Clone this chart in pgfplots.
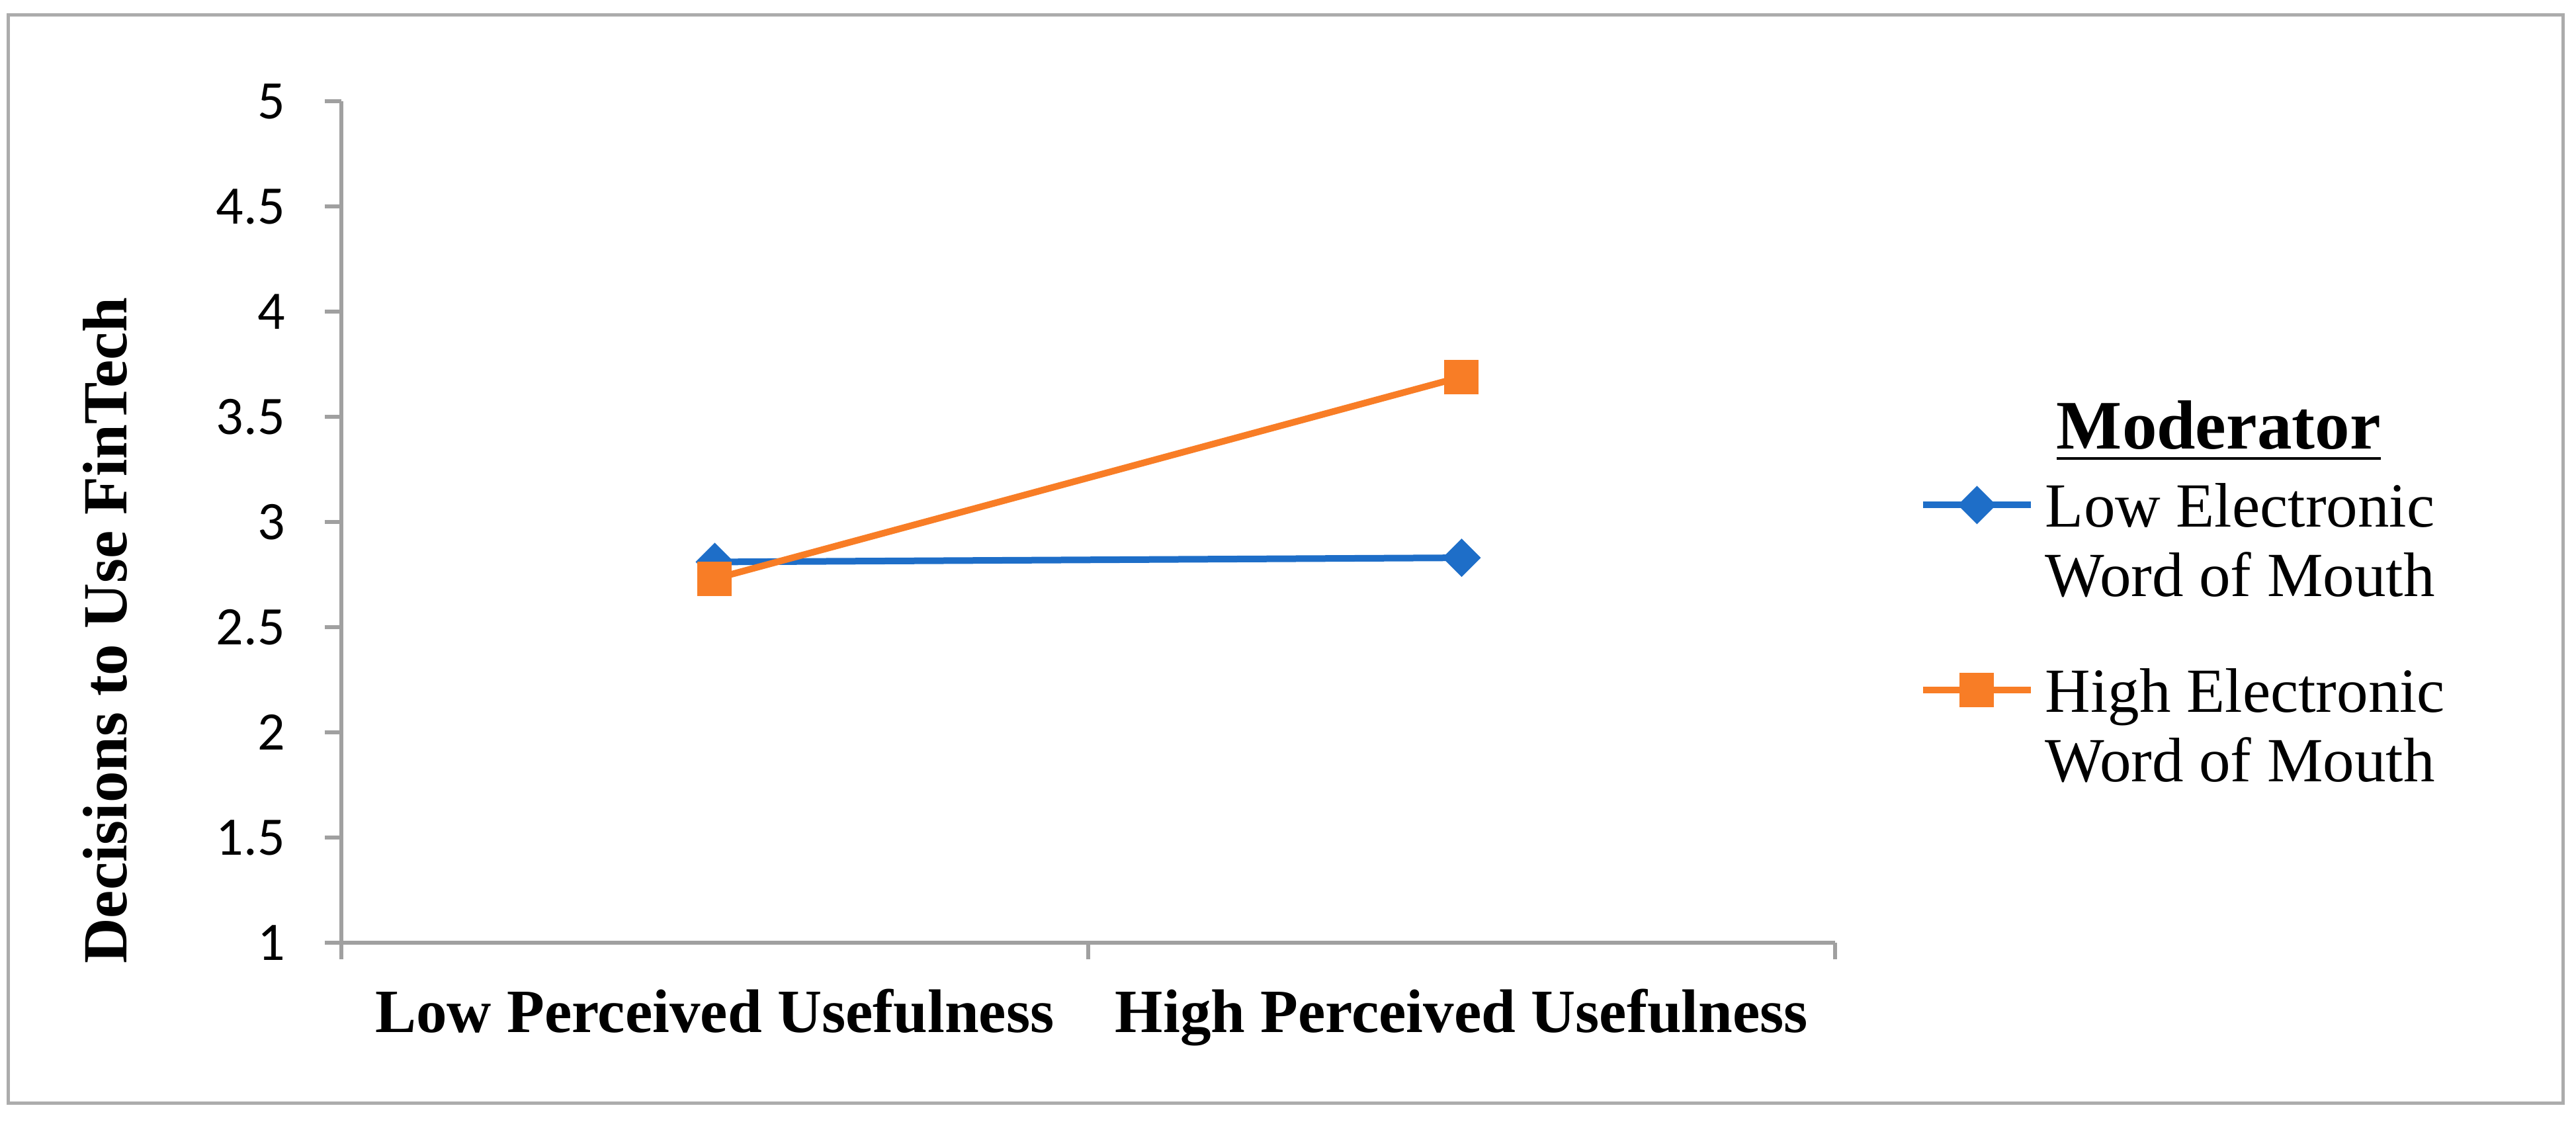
\documentclass[border=0pt]{standalone}
\usepackage{fontspec}
\setmainfont{Liberation Serif}
\newfontfamily\carlito{Carlito}
\usepackage{pgfplots}
\pgfplotsset{compat=1.18}

\definecolor{lowblue}{RGB}{30,110,200}
\definecolor{highorange}{RGB}{248,125,38}
\definecolor{axgray}{RGB}{160,160,160}

\begin{document}
\begin{tikzpicture}
\useasboundingbox (0,0) rectangle (389.4pt,169.5pt);
\draw[gray!65, line width=0.5pt] (1.3pt,2.8pt) rectangle (387.4pt,167.3pt);
\begin{axis}[
    at={(51.6pt,27pt)}, anchor=south west,
    width=225.8pt, height=127.2pt, scale only axis,
    xmin=0, xmax=2, ymin=1, ymax=5,
    axis x line*=bottom, axis y line*=left,
    axis line style={-, draw=axgray, line width=0.6pt},
    ytick={1,1.5,2,2.5,3,3.5,4,4.5,5},
    /pgf/number format/assume math mode=true,
    yticklabel style={font=\carlito\fontsize{8.2}{9}\selectfont, xshift=-2.5pt},
    xtick={0.5,1.5},
    xticklabels={Low Perceived Usefulness, High Perceived Usefulness},
    minor xtick={0,1,2},
    major x tick style={draw=none},
    tick align=outside,
    major tick length=2.5pt, minor tick length=2.5pt,
    tick style={draw=axgray, line width=0.6pt},
    xticklabel style={font=\bfseries\fontsize{9.3}{11}\selectfont, anchor=base, yshift=-11pt},
    ylabel={Decisions to Use FinTech},
    ylabel style={font=\bfseries\fontsize{9.5}{11}\selectfont,
        at={(axis description cs:-0.1435,0.371)}, anchor=base},
    legend style={at={(rel axis cs:1.0558,0.6515)}, anchor=north west,
        draw=none, fill=none, inner sep=0pt, row sep=0pt,
        font=\fontsize{9.5}{10.5}\selectfont,
        cells={anchor=base west},
        nodes={inner sep=0pt, inner xsep=1.7pt, text depth=0pt}},
    legend image code/.code={
        \draw[mark repeat=2, mark phase=2, yshift=3.3pt, #1]
            plot coordinates {(0pt,0pt) (8.15pt,0pt) (16.3pt,0pt)};},
]
% legend: title, then each two-line entry as two rows
\addlegendimage{empty legend}
\addlegendentry{\rule{0pt}{8pt}\hspace{1.7pt}{\fontsize{10.5}{12}\selectfont\bfseries\underline{Moderator}}}
\addlegendimage{lowblue, line width=1pt, mark=square*, mark size=1.85pt,
    mark options={solid, line width=0.4pt, rotate=45}}
\addlegendentry{\rule{0pt}{11.8pt}Low Electronic}
\addlegendimage{empty legend}
\addlegendentry{\rule{0pt}{10.5pt}Word of Mouth}
\addlegendimage{highorange, line width=1pt, mark=square*, mark size=2.4pt,
    mark options={solid, line width=0.4pt}}
\addlegendentry{\rule{0pt}{17.5pt}High Electronic}
\addlegendimage{empty legend}
\addlegendentry{\rule{0pt}{10.5pt}Word of Mouth}

\addplot[lowblue, line width=1pt, mark=square*, mark size=1.85pt,
    mark options={solid, line width=0.4pt, rotate=45}, forget plot]
    coordinates {(0.5,2.81) (1.5,2.83)};
\addplot[highorange, line width=1pt, mark=square*, mark size=2.4pt,
    mark options={solid, line width=0.4pt}, forget plot]
    coordinates {(0.5,2.73) (1.5,3.69)};
\end{axis}
\end{tikzpicture}
\end{document}
